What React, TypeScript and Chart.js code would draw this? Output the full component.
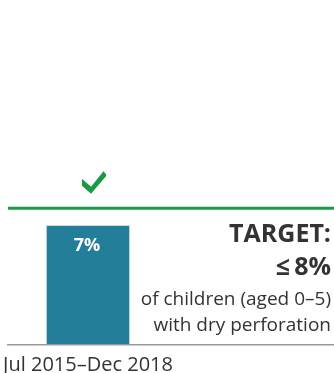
import React, { useEffect, useRef } from "react";
import { Chart, registerables } from "chart.js";

Chart.register(...registerables);

const categories = ["Jul 2015\u2013Dec 2018"];
const values = [7];
const valueLabels = ["7%"];
const targetValue = 8;
const targetLines = ["TARGET:", "\u2264\u20098%"];
const targetNotes = ["of children (aged 0\u20135)", "with dry perforation"];
const yMax = 20;

const TEXT = "#333333";
const GREEN = "#1a9a44";
const BAR = "#237f99";
const FONT = "'Open Sans', 'Noto Sans', sans-serif";

const decorPlugin = {
  id: "decor",
  afterDatasetsDraw(chart: any) {
    const { ctx, chartArea, scales } = chart;
    const W = chart.width;
    const y = scales.y;
    const x = scales.x;
    ctx.save();
    // axis baseline
    ctx.strokeStyle = "#9a9a9a";
    ctx.lineWidth = 1.5;
    ctx.beginPath();
    ctx.moveTo(chartArea.left - 1, chartArea.bottom + 0.75);
    ctx.lineTo(W, chartArea.bottom + 0.75);
    ctx.stroke();
    // target line
    const ty = y.getPixelForValue(targetValue) - 1;
    ctx.strokeStyle = GREEN;
    ctx.lineWidth = 3;
    ctx.beginPath();
    ctx.moveTo(chartArea.left, ty);
    ctx.lineTo(W, ty);
    ctx.stroke();
    // checkmark
    const cx = x.getPixelForValue(0);
    ctx.fillStyle = GREEN;
    ctx.beginPath();
    ctx.moveTo(cx - 6, ty - 29.5);
    ctx.lineTo(cx + 3, ty - 21.5);
    ctx.lineTo(cx + 15.5, ty - 37);
    ctx.lineTo(cx + 18, ty - 34);
    ctx.lineTo(cx + 18, ty - 32);
    ctx.lineTo(cx + 3, ty - 14.5);
    ctx.lineTo(cx - 6, ty - 22.5);
    ctx.closePath();
    ctx.fill();
    // bar value labels
    const meta = chart.getDatasetMeta(0);
    ctx.fillStyle = "#ffffff";
    ctx.font = `bold 18px ${FONT}`;
    ctx.textAlign = "center";
    ctx.textBaseline = "alphabetic";
    meta.data.forEach((bar: any, i: number) => {
      ctx.fillText(valueLabels[i], bar.x - 1, bar.y + 25);
    });
    // target text
    ctx.fillStyle = TEXT;
    ctx.textAlign = "right";
    const rx = W - 3;
    ctx.font = `bold 25px ${FONT}`;
    ctx.fillText(targetLines[0], rx, 242);
    ctx.fillText(targetLines[1], rx, 275);
    ctx.font = `19px ${FONT}`;
    ctx.fillText(targetNotes[0], rx, 305);
    ctx.fillText(targetNotes[1], rx, 331);
    ctx.restore();
  },
};

export default function App() {
  const ref = useRef<HTMLCanvasElement | null>(null);
  useEffect(() => {
    if (!ref.current) return;
    const chart = new Chart(ref.current, {
      type: "bar",
      data: {
        labels: categories,
        datasets: [
          {
            data: values,
            backgroundColor: BAR,
            barThickness: 82,
            borderWidth: 0,
          },
        ],
      },
      options: {
        responsive: false,
        animation: false,
        layout: { padding: { left: 8, right: 166, top: 7, bottom: 0 } },
        plugins: { legend: { display: false }, tooltip: { enabled: false } },
        scales: {
          y: { display: false, min: 0, max: yMax },
          x: {
            grid: { display: false, drawTicks: false },
            border: { display: false },
            afterFit: (scale: any) => {
              scale.height = 29;
              scale.paddingLeft = 0;
              scale.paddingRight = 0;
            },
            ticks: {
              color: TEXT,
              padding: 9,
              font: { family: FONT, size: 20 },
              maxRotation: 0,
              autoSkip: false,
            },
          },
        },
      },
      plugins: [decorPlugin],
    });
    return () => chart.destroy();
  }, []);
  return (
    <div style={{ position: "fixed", left: 0, top: 0 }}>
      <canvas ref={ref} width={334} height={373} />
    </div>
  );
}
